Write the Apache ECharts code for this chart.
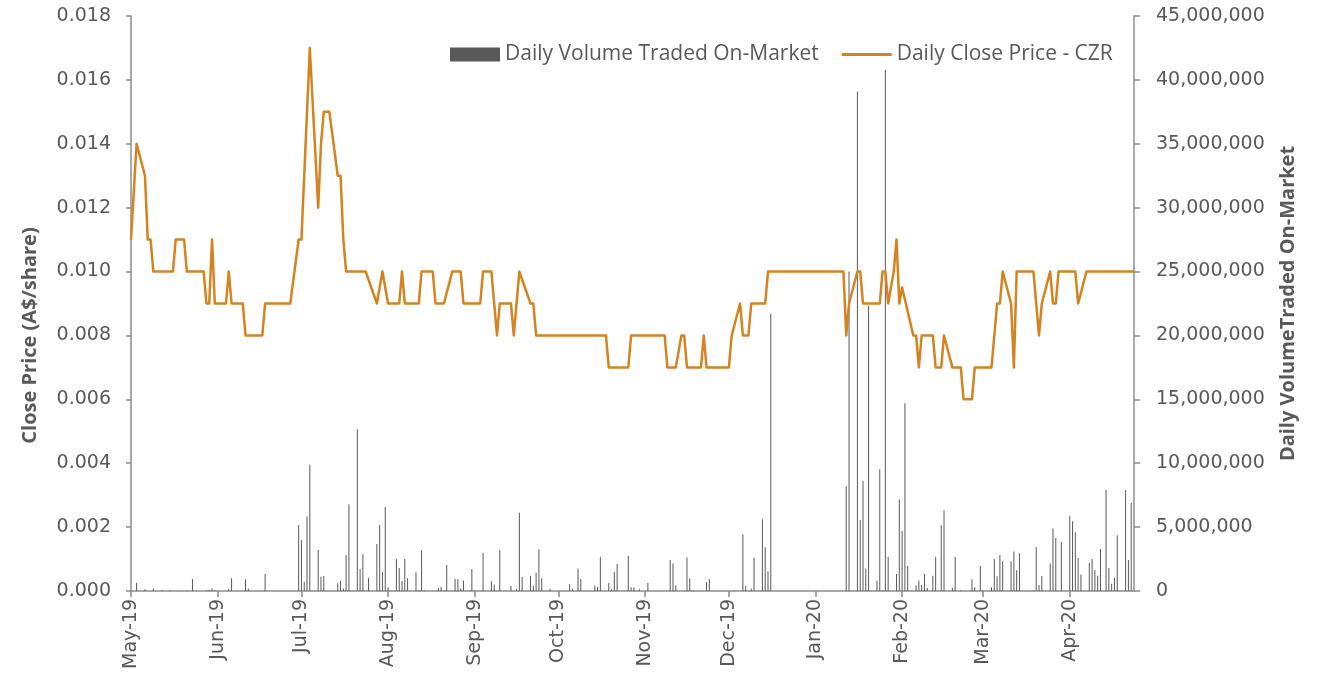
<!DOCTYPE html>
<html>
<head>
<meta charset="utf-8">
<script src="https://cdn.jsdelivr.net/npm/echarts@6/dist/echarts.min.js"></script>
<style>
html,body{margin:0;padding:0;background:#fff;}
#chart{width:1322px;height:683px;}
</style>
</head>
<body>
<div id="chart"></div>
<script>
// ---- axis range ----
const startDate = '2019-05-01';
const endDate = '2020-04-24';
const monthNames = ['Jan','Feb','Mar','Apr','May','Jun','Jul','Aug','Sep','Oct','Nov','Dec'];
const priceTicks = [0, 0.002, 0.004, 0.006, 0.008, 0.010, 0.012, 0.014, 0.016, 0.018];
const volumeTicks = [0, 5000000, 10000000, 15000000, 20000000, 25000000, 30000000, 35000000, 40000000, 45000000];

// ---- close price (vertices of the line) ----
const priceDates = [
 '2019-05-01','2019-05-03','2019-05-06','2019-05-07','2019-05-08','2019-05-09','2019-05-16','2019-05-17','2019-05-20','2019-05-21','2019-05-27','2019-05-28','2019-05-29','2019-05-30','2019-05-31',
 '2019-06-04','2019-06-05','2019-06-06','2019-06-10','2019-06-11','2019-06-17','2019-06-18','2019-06-27','2019-06-30',
 '2019-07-01','2019-07-04','2019-07-07','2019-07-08','2019-07-09','2019-07-11','2019-07-14','2019-07-15','2019-07-16','2019-07-17','2019-07-24','2019-07-28','2019-07-30',
 '2019-08-01','2019-08-05','2019-08-06','2019-08-07','2019-08-12','2019-08-13','2019-08-17','2019-08-18','2019-08-21','2019-08-24','2019-08-27','2019-08-28',
 '2019-09-03','2019-09-04','2019-09-07','2019-09-09','2019-09-10','2019-09-14','2019-09-15','2019-09-17','2019-09-21','2019-09-22','2019-09-23',
 '2019-10-18','2019-10-19','2019-10-26','2019-10-27',
 '2019-11-08','2019-11-09','2019-11-12','2019-11-14','2019-11-15','2019-11-16','2019-11-21','2019-11-22','2019-11-23',
 '2019-12-01','2019-12-02','2019-12-05','2019-12-06','2019-12-08','2019-12-09','2019-12-14','2019-12-15',
 '2020-01-11','2020-01-12','2020-01-13','2020-01-16','2020-01-17','2020-01-18','2020-01-24','2020-01-25','2020-01-26','2020-01-27','2020-01-29','2020-01-30','2020-01-31',
 '2020-02-01','2020-02-05','2020-02-06','2020-02-07','2020-02-08','2020-02-12','2020-02-13','2020-02-15','2020-02-16','2020-02-19','2020-02-22','2020-02-23','2020-02-26','2020-02-27',
 '2020-03-04','2020-03-06','2020-03-07','2020-03-08','2020-03-11','2020-03-12','2020-03-13','2020-03-19','2020-03-21','2020-03-22','2020-03-25','2020-03-26','2020-03-27','2020-03-28',
 '2020-04-03','2020-04-04','2020-04-07','2020-04-24'
];
const priceValues = [
 0.011,0.014,0.013,0.011,0.011,0.010,0.010,0.011,0.011,0.010,0.010,0.009,0.009,0.011,0.009,
 0.009,0.010,0.009,0.009,0.008,0.008,0.009,0.009,0.011,
 0.011,0.017,0.012,0.014,0.015,0.015,0.013,0.013,0.011,0.010,0.010,0.009,0.010,
 0.009,0.009,0.010,0.009,0.009,0.010,0.010,0.009,0.009,0.010,0.010,0.009,
 0.009,0.010,0.010,0.008,0.009,0.009,0.008,0.010,0.009,0.009,0.008,
 0.008,0.007,0.007,0.008,
 0.008,0.007,0.007,0.008,0.008,0.007,0.007,0.008,0.007,
 0.007,0.008,0.009,0.008,0.008,0.009,0.009,0.010,
 0.010,0.008,0.009,0.010,0.010,0.009,0.009,0.010,0.010,0.009,0.010,0.011,0.009,
 0.0095,0.008,0.008,0.007,0.008,0.008,0.007,0.007,0.008,0.007,0.007,0.006,0.006,0.007,
 0.007,0.009,0.009,0.010,0.009,0.007,0.010,0.010,0.008,0.009,0.010,0.009,0.009,0.010,
 0.010,0.009,0.010,0.010
];

// ---- daily volume traded (shares) ----
const volumeDates = [
 '2019-05-03','2019-05-06','2019-05-09','2019-05-12','2019-05-15','2019-05-21','2019-05-23','2019-05-28','2019-05-29','2019-05-30','2019-05-31',
 '2019-06-05','2019-06-06','2019-06-11','2019-06-12','2019-06-18','2019-06-30',
 '2019-07-01','2019-07-02','2019-07-03','2019-07-04','2019-07-07','2019-07-08','2019-07-09','2019-07-14','2019-07-15','2019-07-16','2019-07-17','2019-07-18','2019-07-21','2019-07-22','2019-07-23','2019-07-25','2019-07-28','2019-07-29','2019-07-30','2019-07-31',
 '2019-08-01','2019-08-04','2019-08-05','2019-08-06','2019-08-07','2019-08-08','2019-08-11','2019-08-12','2019-08-13','2019-08-14','2019-08-19','2019-08-20','2019-08-21','2019-08-22','2019-08-25','2019-08-26','2019-08-27','2019-08-28','2019-08-31',
 '2019-09-01','2019-09-04','2019-09-07','2019-09-08','2019-09-10','2019-09-14','2019-09-16','2019-09-17','2019-09-18','2019-09-21','2019-09-22','2019-09-23','2019-09-24','2019-09-25','2019-09-28',
 '2019-10-05','2019-10-06','2019-10-08','2019-10-09','2019-10-14','2019-10-15','2019-10-16','2019-10-19','2019-10-20','2019-10-21','2019-10-22','2019-10-26','2019-10-27','2019-10-28','2019-10-30',
 '2019-11-02','2019-11-10','2019-11-11','2019-11-12','2019-11-16','2019-11-17','2019-11-18','2019-11-23','2019-11-24',
 '2019-12-03','2019-12-06','2019-12-07','2019-12-09','2019-12-10','2019-12-13','2019-12-14','2019-12-15','2019-12-16',
 '2020-01-12','2020-01-13','2020-01-16','2020-01-17','2020-01-18','2020-01-19','2020-01-20','2020-01-23','2020-01-24','2020-01-25','2020-01-26','2020-01-27','2020-01-30','2020-01-31',
 '2020-02-01','2020-02-02','2020-02-03','2020-02-06','2020-02-07','2020-02-08','2020-02-09','2020-02-10','2020-02-12','2020-02-13','2020-02-15','2020-02-16','2020-02-19','2020-02-20','2020-02-22','2020-02-26','2020-02-27','2020-02-29',
 '2020-03-01','2020-03-04','2020-03-05','2020-03-06','2020-03-07','2020-03-08','2020-03-11','2020-03-12','2020-03-13','2020-03-14','2020-03-19','2020-03-20','2020-03-21','2020-03-22','2020-03-25','2020-03-26','2020-03-27','2020-03-29',
 '2020-04-01','2020-04-02','2020-04-03','2020-04-04','2020-04-05','2020-04-08','2020-04-09','2020-04-10','2020-04-11','2020-04-12','2020-04-14','2020-04-15','2020-04-16','2020-04-17','2020-04-18','2020-04-21','2020-04-22','2020-04-23'
];
const volumeValues = [
 650000,130000,200000,50000,80000,50000,940000,50000,80000,200000,50000,
 160000,1000000,910000,200000,1330000,5160000,
 3990000,730000,5840000,9890000,3210000,1120000,1170000,600000,780000,200000,2820000,6780000,12650000,1720000,2870000,1040000,3680000,5160000,1490000,6570000,
 290000,2480000,1800000,760000,2500000,1000000,1460000,50000,3180000,50000,230000,340000,50000,2030000,940000,940000,200000,830000,1720000,
 50000,3000000,760000,500000,3180000,390000,130000,6130000,1100000,1170000,390000,1430000,3260000,990000,160000,
 520000,180000,1770000,940000,440000,340000,2660000,630000,130000,1490000,2110000,2760000,290000,290000,130000,
 630000,2430000,2160000,440000,2630000,970000,50000,700000,940000,
 50000,4430000,390000,200000,2610000,5610000,3420000,1540000,21700000,
 8200000,25000000,39100000,5560000,8630000,1770000,22300000,810000,9520000,50000,40800000,2660000,1330000,7170000,
 4690000,14700000,1960000,440000,830000,470000,1330000,230000,1200000,2660000,5160000,6310000,230000,2660000,50000,910000,290000,1960000,
 50000,290000,2500000,1150000,2820000,2320000,2320000,3100000,1620000,2950000,50000,3440000,470000,1170000,2160000,4900000,4150000,3830000,
 5870000,5450000,4590000,2580000,1300000,2190000,2500000,1640000,1200000,3290000,7900000,1800000,570000,1020000,4360000,7900000,2430000,6890000
];

// ---- build calendar categories between start and end ----
function isoDay(t){ return new Date(t).toISOString().slice(0,10); }
const days = [];
(function(){
  const s = Date.parse(startDate + 'T00:00:00Z');
  const e = Date.parse(endDate + 'T00:00:00Z');
  for (let t = s; t <= e; t += 86400000) days.push(isoDay(t));
})();
const dayIndex = {};
days.forEach((d, i) => { dayIndex[d] = i; });

const priceData = priceDates.map((d, i) => [dayIndex[d], priceValues[i]]);
const volumeData = volumeDates.map((d, i) => [dayIndex[d], volumeValues[i]]);

const isMonthStart = (idx, val) => val.slice(8) === '01';
const monthLabel = (val) => monthNames[parseInt(val.slice(5,7),10)-1] + '-' + val.slice(2,4);

const axisGray = '#8c8c8c';
const textGray = '#595959';
const lineColor = '#D4831F';

const chart = echarts.init(document.getElementById('chart'), null, {renderer:'canvas'});
chart.setOption({
  animation: false,
  backgroundColor: '#ffffff',
  grid: { left: 131, right: 188, top: 16, bottom: 92, containLabel: false },
  legend: {
    left: 450, top: 44, padding: 0,
    itemWidth: 50, itemHeight: 14, itemGap: 23,
    textStyle: { fontFamily: 'Open Sans', fontSize: 21, color: textGray },
    data: [
      { name: 'Daily Volume Traded On-Market', icon: 'rect', itemStyle: { color: '#595959' } },
      { name: 'Daily Close Price - CZR', icon: 'path://M0,0H50V3H0Z', itemStyle: { color: lineColor } }
    ]
  },
  xAxis: {
    type: 'category',
    data: days,
    boundaryGap: false,
    axisLine: { show: true, lineStyle: { color: axisGray, width: 1.5 } },
    axisTick: { show: true, interval: isMonthStart, length: 6, lineStyle: { color: axisGray, width: 1.5 } },
    axisLabel: {
      interval: isMonthStart, rotate: 90, margin: 8,
      fontFamily: 'DejaVu Sans', fontSize: 19, color: textGray,
      formatter: monthLabel
    },
    splitLine: { show: false }
  },
  yAxis: [
    {
      type: 'value', position: 'left',
      min: priceTicks[0], max: priceTicks[priceTicks.length-1], interval: priceTicks[1]-priceTicks[0],
      name: 'Close Price (A$/share)', nameLocation: 'middle', nameRotate: 90, nameGap: 91,
      nameTextStyle: { fontFamily: 'Open Sans', fontWeight: 'bold', fontSize: 20, color: textGray,
        padding: [0, 64, 0, 0] },
      axisLine: { show: true, lineStyle: { color: axisGray, width: 1.5 } },
      axisTick: { show: true, length: 5, lineStyle: { color: axisGray, width: 1.5 } },
      axisLabel: { margin: 20, fontFamily: 'DejaVu Sans', fontSize: 19, color: textGray,
        formatter: v => v.toFixed(3) },
      splitLine: { show: false }
    },
    {
      type: 'value', position: 'right',
      min: volumeTicks[0], max: volumeTicks[volumeTicks.length-1], interval: volumeTicks[1]-volumeTicks[0],
      name: 'Daily VolumeTraded On-Market', nameLocation: 'middle', nameRotate: 90, nameGap: 144,
      nameTextStyle: { fontFamily: 'Open Sans', fontWeight: 'bold', fontSize: 20, color: textGray },
      axisLine: { show: true, lineStyle: { color: axisGray, width: 1.5 } },
      axisTick: { show: true, length: 6, lineStyle: { color: axisGray, width: 1.5 } },
      axisLabel: { margin: 22, fontFamily: 'DejaVu Sans', fontSize: 19, color: textGray,
        formatter: v => Math.round(v).toLocaleString('en-US') },
      splitLine: { show: false }
    }
  ],
  series: [
    {
      name: 'Daily Volume Traded On-Market',
      type: 'bar', xAxisIndex: 0, yAxisIndex: 1,
      barWidth: 1,
      itemStyle: { color: '#595959' },
      data: volumeData,
      z: 2
    },
    {
      name: 'Daily Close Price - CZR',
      type: 'line', xAxisIndex: 0, yAxisIndex: 0,
      symbol: 'none', showSymbol: false,
      lineStyle: { color: lineColor, width: 2.5, join: 'round' },
      itemStyle: { color: lineColor },
      data: priceData,
      z: 3
    }
  ]
});
</script>
</body>
</html>
